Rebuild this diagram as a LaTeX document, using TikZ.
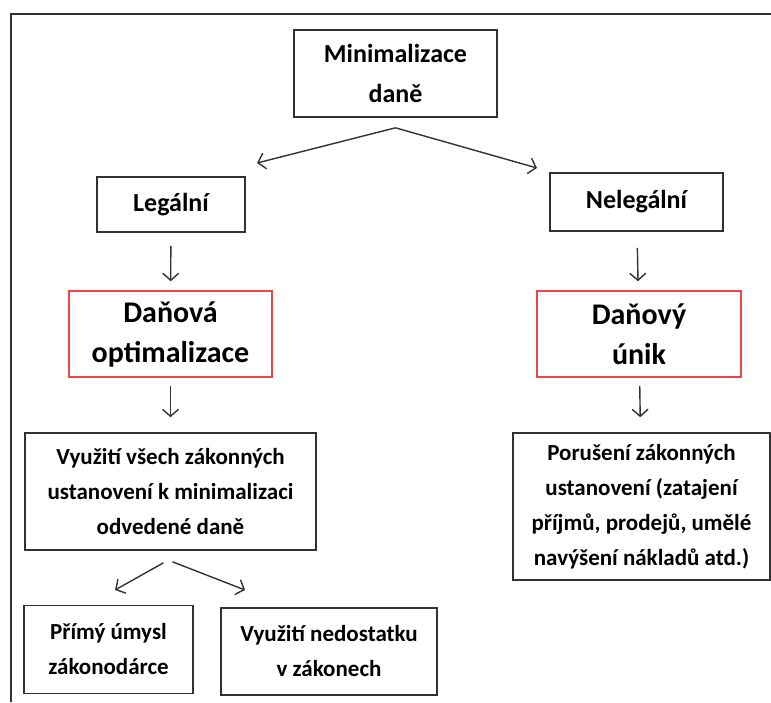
\documentclass[tikz,border=0pt]{standalone}
\usepackage{fontspec}
\setmainfont{Carlito}
\usepackage{tikz}
\usetikzlibrary{arrows.meta,positioning}

\definecolor{boxgray}{RGB}{50,50,50}
\definecolor{boxred}{RGB}{235,70,70}
\newcommand{\titlefont}{\bfseries\fontsize{26}{40}\selectfont}
\newcommand{\keyfont}{\bfseries\fontsize{30}{40}\selectfont}
\newcommand{\notefont}{\bfseries\fontsize{23}{35}\selectfont}
\tikzset{
	box/.style={draw=boxgray, line width=1.6pt, align=center, inner sep=0pt},
	redbox/.style={box, draw=boxred},
	sip/.style={draw=boxgray, line width=1.4pt, -{Straight Barb[length=7pt,width=16pt]}},
}

\begin{document}
\begin{tikzpicture}[x=1pt,y=-1pt]
			\useasboundingbox (0,0) rectangle (771,702);
			\draw[line width=2.2pt, boxgray] (11,702) -- (11,14) -- (771,14);

			% top
			\node[box, minimum width=203pt, minimum height=87pt, font=\titlefont] (mini) at (395.5,73.5) {Minimalizace\\daně};
			\node[box, minimum width=148pt, minimum height=55pt, font=\titlefont] (legal) at (171,204.5) {Legální};
			\node[box, minimum width=173pt, minimum height=58pt, font=\titlefont] (nelegal) at (636.5,202) {Nelegální};
			\coordinate (legtip) at (257,163);
			\coordinate (neltip) at (537,168);
			\draw[sip] ([yshift=-10pt]mini.south) -- (legtip);
			\draw[sip] ([yshift=-10pt]mini.south) -- (neltip);

			% legalni vetev
			\node[redbox, minimum width=203pt, minimum height=86pt, font=\keyfont] (optim) at (170.5,334) {Daňová\\optimalizace};
			\node[box, minimum width=291pt, minimum height=117pt, font=\notefont] (vyuziti) at (170.5,491.5) {Využití všech zákonných\\ustanovení k minimalizaci\\odvedené daně};
			\draw[sip, shorten <=13pt, shorten >=9pt] (legal) -- (optim);
			\draw[sip, shorten <=8pt, shorten >=15pt] (optim) -- (vyuziti);

			\node[box, minimum width=169pt, minimum height=88pt, font=\notefont] (primy) at (108.5,649.5) {Přímý úmysl\\zákonodárce};
			\node[box, minimum width=216pt, minimum height=87pt, font=\notefont] (nedost) at (329,651.5) {Využití nedostatku\\v zákonech};
			\coordinate (primtip) at (115,590);
			\coordinate (nedtip) at (245,590);
			\draw[sip] ([xshift=-7pt,yshift=-12pt]vyuziti.south) -- (primtip);
			\draw[sip] ([xshift=2pt,yshift=-11pt]vyuziti.south) -- (nedtip);

			% nelegalni vetev
			\node[redbox, minimum width=204pt, minimum height=86pt, font=\keyfont] (unik) at (639,334) {Daňový\\únik};
			\node[box, minimum width=257pt, minimum height=147pt, font=\notefont] (poruseni) at (641.5,506.5) {Porušení zákonných\\ustanovení (zatajení\\příjmů, prodejů, umělé\\navýšení nákladů atd.)};
			\draw[sip, shorten <=16pt, shorten >=9pt] (nelegal) -- (unik);
			\draw[sip, shorten <=8pt, shorten >=15pt] (unik) -- (poruseni);
\end{tikzpicture}
\end{document}
